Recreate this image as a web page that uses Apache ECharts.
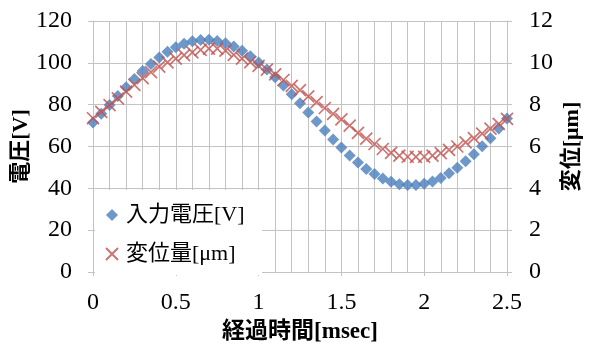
<!DOCTYPE html>
<html>
<head>
<meta charset="utf-8">
<script src="https://cdn.jsdelivr.net/npm/echarts@6/dist/echarts.min.js"></script>
<style>
html,body{margin:0;padding:0;background:#fff;}
#chart{width:591px;height:345px;}
</style>
</head>
<body>
<div id="chart"></div>
<script>
// elapsed time [msec]
var times = [0,0.05,0.1,0.15,0.2,0.25,0.3,0.35,0.4,0.45,0.5,0.55,0.6,0.65,0.7,0.75,0.8,0.85,0.9,0.95,
  1,1.05,1.1,1.15,1.2,1.25,1.3,1.35,1.4,1.45,1.5,1.55,1.6,1.65,1.7,1.75,1.8,1.85,1.9,1.95,
  2,2.05,2.1,2.15,2.2,2.25,2.3,2.35,2.4,2.45,2.5];
// input voltage [V]
var voltage = [71.5,75.6,79.8,84.1,88.3,92.3,96.1,99.5,102.6,105.3,107.5,109.1,110.3,110.9,111.0,110.4,109.4,107.8,105.8,103.2,
  100.2,96.8,93.1,89.2,85.0,80.7,76.3,71.9,67.6,63.4,59.5,55.7,52.3,49.3,46.8,44.7,43.1,42.0,41.6,41.6,
  42.2,43.3,45.0,47.2,49.8,52.9,56.3,60.1,64.0,68.6,73.4];
// displacement [um]
var displacement = [7.35,7.66,7.98,8.30,8.62,8.95,9.27,9.56,9.82,10.02,10.20,10.37,10.50,10.62,10.68,10.68,10.58,10.38,10.20,10.03,
  9.85,9.68,9.45,9.18,8.90,8.70,8.40,8.12,7.84,7.56,7.30,7.00,6.65,6.38,6.12,5.88,5.70,5.56,5.51,5.50,
  5.51,5.56,5.68,5.84,6.00,6.20,6.40,6.62,6.85,7.08,7.32];
var seriesNames = ['入力電圧[V]', '変位量[μm]'];
var xName = '経過時間[msec]';
var yLeftName = '電圧[V]';
var yRightName = '変位[μm]';

function pairs(xs, ys){ return xs.map(function(x,i){ return [x, ys[i]]; }); }

var gridColor = '#c3c3c3';
var serif = '"Liberation Serif", "DejaVu Serif", serif';
var nameFont = '"Liberation Serif", "Noto Sans CJK JP", serif';

var chart = echarts.init(document.getElementById('chart'));
chart.setOption({
  animation: false,
  backgroundColor: '#fff',
  grid: {left: 93, right: 84, top: 21, bottom: 73, containLabel: false, outerBoundsMode: 'none'},
  xAxis: {
    type: 'value', min: 0, max: 2.5, interval: 0.5,
    name: xName, nameLocation: 'middle', nameGap: 49, nameMoveOverlap: false,
    nameTextStyle: {fontFamily: nameFont, fontSize: 23, fontWeight: 'bold', color: '#000'},
    axisLine: {show: true, lineStyle: {color: gridColor, width: 1}},
    axisTick: {show: true, length: 4, lineStyle: {color: gridColor}},
    axisLabel: {fontFamily: serif, fontSize: 24, color: '#000', margin: 19},
    splitLine: {show: true, lineStyle: {color: gridColor, width: 1}},
    minorTick: {show: false, splitNumber: 5},
    minorSplitLine: {show: true, lineStyle: {color: gridColor, width: 1}}
  },
  yAxis: [{
    type: 'value', min: 0, max: 120, interval: 20, position: 'left',
    name: yLeftName, nameLocation: 'middle', nameGap: 61, nameRotate: 90, nameMoveOverlap: false,
    nameTextStyle: {fontFamily: nameFont, fontSize: 22, fontWeight: 'bold', color: '#000'},
    axisLine: {show: true, lineStyle: {color: gridColor}},
    axisTick: {show: true, length: 5, lineStyle: {color: gridColor}},
    axisLabel: {fontFamily: serif, fontSize: 24, color: '#000', margin: 21},
    splitLine: {show: true, lineStyle: {color: gridColor, width: 1}}
  }, {
    type: 'value', min: 0, max: 12, interval: 2, position: 'right',
    name: yRightName, nameLocation: 'middle', nameGap: 54, nameRotate: 90, nameMoveOverlap: false,
    nameTextStyle: {fontFamily: nameFont, fontSize: 22, fontWeight: 'bold', color: '#000'},
    axisLine: {show: true, lineStyle: {color: gridColor}},
    axisTick: {show: true, length: 5, lineStyle: {color: gridColor}},
    axisLabel: {fontFamily: serif, fontSize: 24, color: '#000', margin: 22},
    splitLine: {show: false}
  }],
  graphic: [{
    type: 'rect', z: 3, silent: true,
    shape: {x: 95, y: 190, width: 167, height: 85},
    style: {fill: '#fff'}
  }],
  legend: {
    orient: 'vertical', left: 100, top: 198, itemGap: 15,
    itemWidth: 12, itemHeight: 12, z: 5,
    textStyle: {fontFamily: nameFont, fontSize: 22, color: '#000', padding: [0,0,0,3], lineHeight: 24},
    data: seriesNames
  },
  series: [{
    name: seriesNames[0], type: 'scatter', yAxisIndex: 0,
    symbol: 'diamond', symbolSize: 12,
    itemStyle: {color: '#4a7ebb'},
    data: pairs(times, voltage)
  }, {
    name: seriesNames[1], type: 'scatter', yAxisIndex: 1,
    symbol: 'path://M0,0L10,10M10,0L0,10', symbolSize: 12,
    itemStyle: {color: 'rgba(0,0,0,0)', borderColor: '#c0504d', borderWidth: 1.7},
    data: pairs(times, displacement)
  }]
});
</script>
</body>
</html>
